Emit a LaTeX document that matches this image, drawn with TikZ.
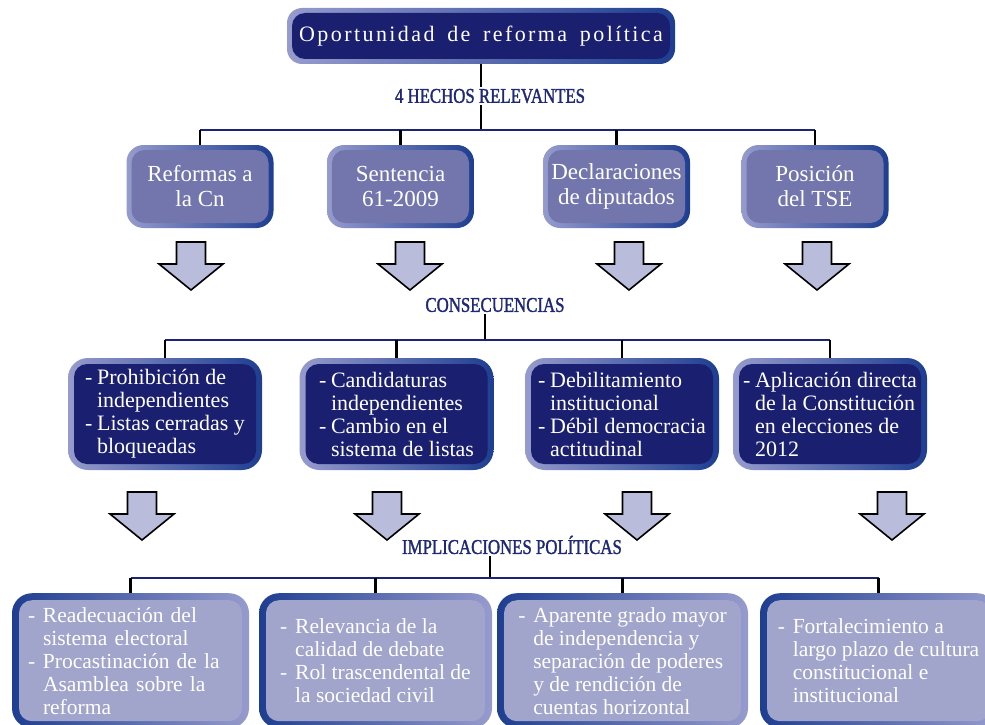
\documentclass[tikz,border=0pt]{standalone}
\usepackage{fontspec}
\setmainfont{Liberation Serif}
\newfontfamily\titlefont[LetterSpace=11,WordSpace=1.6]{Liberation Serif}
\newfontfamily\condfont[FakeStretch=0.8,FakeBold=1.5]{Liberation Serif}
\usetikzlibrary{positioning}
\definecolor{navyC}{RGB}{26,31,112}
\definecolor{hechoC}{RGB}{114,118,173}
\definecolor{implC}{RGB}{161,164,203}
\definecolor{flechaC}{RGB}{185,188,219}
\definecolor{labelC}{RGB}{31,40,120}
\definecolor{barC}{RGB}{28,36,120}
\definecolor{bordeL}{RGB}{150,155,205}
\definecolor{bordeD}{RGB}{30,62,145}
\newcommand{\guion}[1]{\makebox[#1][l]{-}}
\newcommand{\sangria}[1]{\hspace*{#1}}
\tikzset{
	caja/.style n args={4}{rounded corners=17pt, inner sep=0pt, text=white,
		path picture={
			\shade[left color=#1, right color=#2]
			(path picture bounding box.south west) rectangle (path picture bounding box.north east);
			\fill[#3, rounded corners=13pt]
			([shift={(#4,#4)}]path picture bounding box.south west)
			rectangle ([shift={(-#4,-#4)}]path picture bounding box.north east);
	}},
	titulo/.style={caja={bordeL}{bordeD}{navyC}{5pt}, rounded corners=15pt,
		minimum width=388pt, minimum height=56pt,
		font=\titlefont\fontsize{22}{26}\selectfont},
	hecho/.style={caja={bordeL}{bordeD}{hechoC}{5pt}, align=center,
		minimum width=147pt, minimum height=83pt,
		font=\fontsize{23}{25}\selectfont},
	consec/.style={caja={bordeL}{bordeD}{navyC}{6pt}, align=left,
		minimum width=194pt, minimum height=112pt, rounded corners=20pt,
		font=\fontsize{22}{23}\selectfont},
	implic/.style={caja={bordeD}{bordeL}{implC}{7pt}, align=left, anchor=north,
		minimum height=135pt, rounded corners=20pt,
		font=\fontsize{21.5}{23}\selectfont},
	rotulo/.style={font=\condfont\fontsize{21}{24}\selectfont, text=labelC, inner sep=2pt},
	rama/.style={line width=2.2pt, black},
	barra/.style={line width=2.2pt, barC},
	flecha/.pic={\draw[line width=1.6pt, fill=flechaC]
		(-14.5,0) -- (14.5,0) -- (14.5,22) -- (32,22) -- (0,48) -- (-32,22) -- (-14.5,22) -- cycle;},
}

\begin{document}
\begin{tikzpicture}[x=1pt, y=-1pt]
		\useasboundingbox (0,0) rectangle (985,725);
		
		% =============== TITULO ===============
		\node[titulo] (top) at (481,36) {Oportunidad de reforma política};
		\node[rotulo] (hechos) at (490,96) {4 HECHOS RELEVANTES};
		\coordinate (b1) at (481,130);
		
		% =============== HECHOS ===============
		\node[hecho] (h1) at (200,186.5) {Reformas a\\la Cn};
		\node[hecho] (h2) at (400.5,186.5) {Sentencia\\61-2009};
		\node[hecho] (h3) at (616.5,186.5) {Declaraciones\\de diputados};
		\node[hecho] (h4) at (815,186.5) {Posición\\del TSE};
		
		\draw[rama] (top.south) -- (top.south |- hechos.north);
		\draw[rama] (top.south |- hechos.south) -- (b1);
		\draw[barra] (b1 -| h1.north) -- (b1 -| h4.north);
		\draw[rama] (h1.north) -- (b1 -| h1.north);
		\draw[rama] (h2.north) -- (b1 -| h2.north);
		\draw[rama] (h3.north) -- (b1 -| h3.north);
		\draw[rama] (h4.north) -- (b1 -| h4.north);
		
		\pic at (191,242) {flecha};
		\pic at (410,242) {flecha};
		\pic at (629,242) {flecha};
		\pic at (817,242) {flecha};
		
		% =============== CONSECUENCIAS ===============
		\node[rotulo] (cons) at (495,305) {CONSECUENCIAS};
		\coordinate (b2) at (485,340);
		
		\node[consec] (c1) at (165,414)
		{\guion{12pt}Prohibición de\\\sangria{12pt}independientes\\\guion{12pt}Listas cerradas y\\\sangria{12pt}bloqueadas};
		\node[consec] (c2) at (396.5,414)
		{\guion{12pt}Candidaturas\\\sangria{12pt}independientes\\\guion{12pt}Cambio en el\\\sangria{12pt}sistema de listas};
		\node[consec] (c3) at (622,414)
		{\guion{12pt}Debilitamiento\\\sangria{12pt}institucional\\\guion{12pt}Débil democracia\\\sangria{12pt}actitudinal};
		\node[consec] (c4) at (830,414)
		{\guion{12pt}Aplicación directa\\\sangria{12pt}de la Constitución\\\sangria{12pt}en elecciones de\\\sangria{12pt}2012};
		
		\draw[rama] (b2 |- cons.south) -- (b2);
		\draw[barra] (b2 -| c1.north) -- (b2 -| c4.north);
		\draw[rama] (c1.north) -- (b2 -| c1.north);
		\draw[rama] (c2.north) -- (b2 -| c2.north);
		\draw[rama] (c3.north) -- (b2 -| c3.north);
		\draw[rama] (c4.north) -- (b2 -| c4.north);
		
		\pic at (142,492) {flecha};
		\pic at (387,492) {flecha};
		\pic at (637,492) {flecha};
		\pic at (892,492) {flecha};
		
		% =============== IMPLICACIONES ===============
		\node[rotulo] (impl) at (512,545) {IMPLICACIONES POLÍTICAS};
		\coordinate (b3) at (490,578);
		
		\node[implic, minimum width=237pt, text width=205pt] (i1) at (130.5,593)
		{\guion{15pt}Readecuación del\\\sangria{15pt}sistema electoral\\\guion{15pt}Procastinación de la\\\sangria{15pt}Asamblea sobre la\\\sangria{15pt}reforma};
		\node[implic, minimum width=233pt] (i2) at (375.5,593)
		{\guion{15pt}Relevancia de la\\\sangria{15pt}calidad de debate\\\guion{15pt}Rol trascendental de\\\sangria{15pt}la sociedad civil};
		\node[implic, minimum width=251pt] (i3) at (622.5,593)
		{\guion{15pt}Aparente grado mayor\\\sangria{15pt}de independencia y\\\sangria{15pt}separación de poderes\\\sangria{15pt}y de rendición de\\\sangria{15pt}cuentas horizontal};
		\node[implic, minimum width=237pt] (i4) at (878.5,593)
		{\guion{15pt}Fortalecimiento a\\\sangria{15pt}largo plazo de cultura\\\sangria{15pt}constitucional e\\\sangria{15pt}institucional};
		
		\draw[rama] (b3 |- impl.south) -- (b3);
		\draw[barra] (b3 -| i1.north) -- (b3 -| i4.north);
		\draw[rama] (i1.north) -- (b3 -| i1.north);
		\draw[rama] (i2.north) -- (b3 -| i2.north);
		\draw[rama] (i3.north) -- (b3 -| i3.north);
		\draw[rama] (i4.north) -- (b3 -| i4.north);
		
	\end{tikzpicture}
\end{document}
